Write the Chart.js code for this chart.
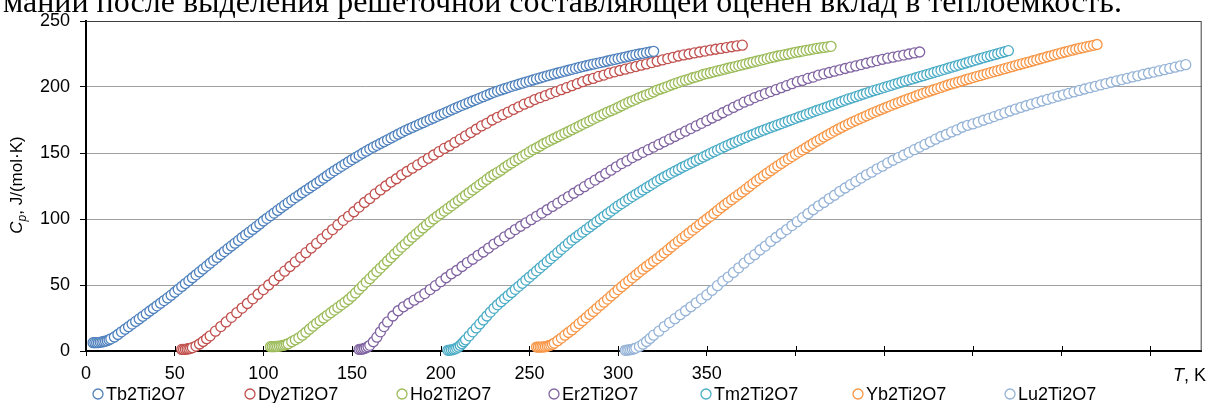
<!DOCTYPE html>
<html>
<head>
<meta charset="utf-8">
<script src="https://cdn.jsdelivr.net/npm/chart.js@4/dist/chart.umd.min.js"></script>
<style>
  body { margin: 0; background: #fff; }
  #wrap { position: relative; width: 1208px; height: 403px; overflow: hidden; }
  #caption { position: absolute; left: 3px; top: -15px; font: 32px/32px "Liberation Serif", "Times New Roman", serif; color: #000; white-space: nowrap; }
  canvas { position: absolute; left: 0; top: 0; }
</style>
</head>
<body>
<div id="wrap">
  <canvas id="cpChart" width="1208" height="403"></canvas>
  <div id="caption">мании после выделения решеточной составляющей оценен вклад в теплоемкость.</div>
</div>
<script>
// real temperatures of the measured points, K (two measurement grids)
const tempDense = [4,5,6,7,8,9,10,11,12,13,14,16,18,20,22,24,26,28,30,32,34,36,38,40,42,44,46,48,50,52,54,56,58,60,62,64,66,68,70,72,74,76,78,80,82,84,86,88,90,92,94,96,98,100,102,104,106,108,110,112,114,116,118,120,122,124,126,128,130,132,134,136,138,140,142,144,146,148,150,152,154,156,158,160,162,164,166,168,170,172,174,176,178,180,182,184,186,188,190,192,194,196,198,200,202,204,206,208,210,212,214,216,218,220,222,224,226,228,230,232,234,236,238,240,242,244,246,248,250,252,254,256,258,260,262,264,266,268,270,272,274,276,278,280,282,284,286,288,290,292,294,296,298,300,302,304,306,308,310,312,314,316,318,320];
const tempSparse = [4,5,6,7,8,9,10,12,14,16,18,20,23,26,29,32,35,38,41,44,47,50,53,56,59,62,65,68,71,74,77,80,83,86,89,92,95,98,101,104,107,110,113,116,119,122,125,128,131,134,137,140,143,146,149,152,155,158,161,164,167,170,173,176,179,182,185,188,191,194,197,200,203,206,209,212,215,218,221,224,227,230,233,236,239,242,245,248,251,254,257,260,263,266,269,272,275,278,281,284,287,290,293,296,299,302,305,308,311,314,317,320];

// every curve is shifted along T by 50 K from the previous one
const offsetK = [0, 50, 100, 150, 200, 250, 300];

const names = ["Tb2Ti2O7", "Dy2Ti2O7", "Ho2Ti2O7", "Er2Ti2O7", "Tm2Ti2O7", "Yb2Ti2O7", "Lu2Ti2O7"];
const colors = ["#4F81BD", "#C0504D", "#9BBB59", "#8064A2", "#4BACC6", "#F79646", "#95B3D7"];

// Cp, J/(mol K)
const tbCp = [6.3,6.3,6.3,6.4,6.6,6.9,7.2,7.5,7.9,8.5,9.2,10.6,12.5,14.5,16.5,18.4,20.4,22.4,24.3,26.3,28.3,30.3,32.2,34.2,36.2,38.2,40.2,42.3,44.5,46.7,48.9,51.1,53.3,55.5,57.7,59.9,62.1,64.3,66.5,68.7,70.9,73.1,75.3,77.5,79.6,81.7,83.8,85.9,88,90,92.1,94.2,96.3,98.5,100.5,102.5,104.5,106.5,108.5,110.5,112.4,114.3,116.2,118,119.9,121.7,123.5,125.3,127.1,129,130.9,132.8,134.7,136.5,138.2,139.9,141.6,143.3,145,146.6,148.2,149.8,151.4,153,154.4,155.8,157.2,158.6,160,161.4,162.8,164.2,165.6,167,168.2,169.4,170.6,171.8,173,174.2,175.4,176.6,177.8,179,180.2,181.4,182.6,183.8,185,186.1,187.2,188.3,189.4,190.5,191.6,192.7,193.8,194.9,196,196.9,197.8,198.7,199.6,200.5,201.3,202.1,202.9,203.7,204.5,205.3,206.1,206.9,207.7,208.5,209.2,209.9,210.6,211.3,212,212.7,213.4,214.1,214.8,215.5,216.1,216.7,217.3,217.9,218.5,219.1,219.7,220.3,220.9,221.5,222.1,222.7,223.3,223.9,224.5,225,225.5,226,226.5,227];
const dyCp = [1.2,1.2,1.3,1.5,1.7,2,2.5,3.7,5.3,7.2,9.3,11.5,15,18.5,22,25.5,29,32.5,36,39.5,43,46.5,50,53.5,57,60.5,64,67.5,71,74.5,78,81.5,85,88.5,92,95.5,99,102,105.5,109,112.5,115.5,119,122,125,128,130.5,133.5,136,138.5,141,143.5,146,148.5,151,153.5,155.5,158,160.5,163,165.5,168,170.5,172.5,175,177,179,181,183,185,187,188.5,190.5,192,193.5,195,196.5,198,199.5,201,202.5,204,205.5,206.5,208,209,210.5,211.5,212.5,213.5,214.5,215.5,216.5,217.5,218.5,219.5,220.5,221.5,222.5,223.5,224.3,225,225.8,226.5,227.2,228,228.6,229.2,229.9,230.5,231.1,231.7];
const hoCp = [3.3,3.3,3.3,3.4,3.5,3.7,3.9,4.2,4.5,5,5.5,7,8.5,10,12,14.2,16.5,18.8,21,23,25,27,29,31,33,35,37,39,41.5,44,46.8,49.5,52.2,54.8,57.5,60.2,62.8,65.5,68.2,70.8,73.5,76.2,78.7,81,83.7,86.2,88.5,90.8,93.2,95.5,97.8,100,102,104,106,108,110,112,114,116,118,120,122,124,126,128,130,132,133.7,135.3,137,139,140.8,142.5,144.2,145.8,147.5,149.2,150.8,152.5,153.8,155.3,157,158.3,159.7,161,162.3,163.7,165,166.3,167.7,169,170.3,171.7,173,174.3,175.7,177,178.3,179.7,181,182,183.2,184.5,185.8,187.2,188.5,189.5,190.7,192,193,194,195,196.3,197.7,198.5,199.5,200.5,201.5,202.5,203.5,204.5,205.2,206,207,207.7,208.5,209.5,210.2,210.8,211.5,212.2,212.8,213.5,214.2,214.8,215.5,216.2,216.8,217.5,218.2,218.8,219.5,220.2,220.8,221.5,222.2,222.8,223.5,224,224.5,225,225.7,226.3,226.7,227.2,227.8,228.2,228.7,229.2,229.6,230,230.4,230.8];
const erCp = [1.2,1.3,1.5,1.9,2.5,3.3,4.3,7,10.5,14.5,18.5,22,26.5,30.5,33.5,36,38.5,41,43.5,46.5,49.5,52.5,55.5,58.5,61,64,67,69.5,72.5,75,78,81,83.5,86.5,89,92,94.5,97,99.5,102,104.5,107,109.5,112,114.5,117,119.5,122,124.5,127,129.5,132,134.5,137,139.5,142,144,146.5,148.5,150.5,152.5,154.5,156.5,158.5,160.5,162.5,164.5,166.5,168.5,170.5,172.5,174.5,176.5,178.5,180.5,182.5,184.5,186.5,188.5,190,192,193.5,195,196.5,198,199.5,201,202.5,204,205,206.5,207.5,209,210,211,212,213,214,215,216,217,218,219,220,221,221.8,222.6,223.4,224.2,225,225.8,226.5];
const tmCp = [0.5,0.6,0.8,1.1,1.6,2.2,3,4.2,5.5,7,8.5,11.5,14.5,17.5,20.5,23.5,26.5,29.5,32.3,35,37.3,39.7,42,44.3,46.7,49,51.3,53.7,56,58.3,60.7,63,65.3,67.7,70,72.3,74.7,77,79.3,81.7,84,86,88,90,92,94,96,98,100,102,104,106,108,110,111.7,113.5,115.3,117,118.7,120.3,122,123.7,125.3,127,128.7,130.3,131.8,133.3,134.8,136.2,137.5,139,140.3,141.7,143,144.3,145.7,147,148.3,149.7,151,152.2,153.5,154.8,156,157.2,158.3,159.5,160.7,161.8,163,164,165.2,166.3,167.3,168.3,169.3,170.3,171.3,172.3,173.3,174.3,175.3,176.3,177.3,178.2,179.2,180.2,181.2,182.2,183.1,184,185,186,187,188,189,190,191,191.8,192.7,193.6,194.5,195.4,196.3,197.2,198,198.8,199.7,200.5,201.3,202.2,203,203.8,204.6,205.4,206.2,207,207.8,208.6,209.4,210.2,211,211.8,212.6,213.4,214.2,215,215.8,216.6,217.4,218.2,219,219.8,220.6,221.4,222.2,223,223.7,224.5,225.2,226,226.7,227.5];
const ybCp = [3,3,3,3,3.1,3.3,3.6,4,4.5,5.2,6,7.8,9.8,12,14,16,18.3,20.7,23,25.3,27.7,30,32.3,34.7,37,39.3,41.7,44,46.5,48.7,51,53.2,55.4,57.6,59.8,62,64,66,68,70,72.2,74.4,76.6,78.8,81,83.2,85.3,87.4,89.5,91.6,93.7,95.8,97.9,100,102,104.2,106.4,108.6,110.6,112.6,114.6,116.6,118.6,120.5,122.6,124.7,126.8,128.8,130.8,132.8,134.7,136.6,138.5,140.3,142.1,143.9,145.6,147.3,149,150.7,152.3,154,155.7,157.3,158.9,160.5,162.1,163.6,165.1,166.6,168,169.4,170.8,172.1,173.4,174.6,175.8,177,178.2,179.4,180.6,181.7,182.8,183.9,185,186.1,187.2,188.2,189.2,190.2,191.2,192.2,193.2,194.2,195.2,196.1,197,197.9,198.8,199.7,200.6,201.5,202.3,203.1,203.9,204.7,205.5,206.3,207.1,207.9,208.6,209.4,210.2,210.9,211.7,212.4,213.2,213.9,214.7,215.4,216.2,216.9,217.7,218.4,219.1,219.9,220.6,221.4,222.1,222.9,223.6,224.4,225.1,225.8,226.5,227.2,227.9,228.6,229.2,229.8,230.4,231,231.6,232.2];
const luCp = [0.5,0.6,0.8,1,1.3,1.7,2.2,3.5,5.2,7.2,9.5,12,15,18.5,21.5,24.5,27.5,30.5,33.5,36.5,39.5,42.5,46,49.5,53,56,59.5,63,66.5,70,73,76.5,79.5,83,86,89,92,95,98,101,104,107,110,112.5,115.5,118,121,123.5,126,128.5,131,133.5,135.5,138,140,142.5,144.5,146.5,148.5,150.5,152.5,154.5,156.5,158.5,160.5,162.5,164,166,167.5,169.5,171,172,173.4,174.8,176.2,177.6,179,180.4,181.8,183.2,184.5,185.8,187,188.2,189.4,190.6,191.8,193,194.1,195.2,196.3,197.4,198.5,199.5,200.5,201.6,202.6,203.6,204.6,205.6,206.6,207.6,208.5,209.5,210.4,211.3,212.2,213.1,214.1,215,216,216.9];

const cpSeries = [tbCp, dyCp, hoCp, erCp, tmCp, ybCp, luCp];
const tempSeries = [tempDense, tempSparse, tempDense, tempSparse, tempDense, tempDense, tempSparse];

const xTicks = [0, 50, 100, 150, 200, 250, 300, 350];   // labelled ticks
const yTicks = [0, 50, 100, 150, 200, 250];

Chart.defaults.font.family = '"Liberation Sans", Arial, sans-serif';
Chart.defaults.font.size = 18;
Chart.defaults.color = '#000';

// frame, inner tick halves, legend and axis titles (Excel style)
const excelDecor = {
  id: 'excelDecor',
  beforeDatasetsDraw(chart) {
    const { ctx, chartArea: a, scales: { x } } = chart;
    ctx.save();
    ctx.strokeStyle = '#404040';
    ctx.lineWidth = 1;
    ctx.beginPath();
    ctx.moveTo(a.left, a.top + 0.5);
    ctx.lineTo(a.right - 0.5, a.top + 0.5);
    ctx.lineTo(a.right - 0.5, a.bottom);
    ctx.stroke();
    ctx.strokeStyle = '#000';
    ctx.beginPath();
    x.ticks.forEach(t => {
      const px = Math.round(x.getPixelForValue(t.value)) + 0.5;
      ctx.moveTo(px, a.bottom - 5);
      ctx.lineTo(px, a.bottom);
    });
    ctx.stroke();
    ctx.restore();
  },
  afterDraw(chart) {
    const { ctx } = chart;
    ctx.save();
    // legend
    ctx.font = '18px "Liberation Sans", Arial, sans-serif';
    ctx.textBaseline = 'alphabetic';
    names.forEach((n, i) => {
      const cx = 98 + i * 152;
      ctx.beginPath();
      ctx.arc(cx, 394, 5, 0, Math.PI * 2);
      ctx.fillStyle = '#fff';
      ctx.fill();
      ctx.strokeStyle = colors[i];
      ctx.lineWidth = 1.3;
      ctx.stroke();
      ctx.fillStyle = '#000';
      ctx.fillText(n, cx + 8, 400);
    });
    // x title
    ctx.textAlign = 'right';
    ctx.fillText(', K', 1206, 381);
    const kw = ctx.measureText(', K').width;
    ctx.font = 'italic 18px "Liberation Sans", Arial, sans-serif';
    ctx.fillText('T', 1206 - kw, 381);
    // y title
    ctx.translate(22, 185);
    ctx.rotate(-Math.PI / 2);
    ctx.textAlign = 'left';
    const fC = 'italic 17px "Liberation Sans", Arial, sans-serif';
    const fP = 'italic 12px "Liberation Sans", Arial, sans-serif';
    const fR = '17px "Liberation Sans", Arial, sans-serif';
    const rest = ', J/(mol\u00B7K)';
    ctx.font = fC; const w1 = ctx.measureText('C').width;
    ctx.font = fP; const w2 = ctx.measureText('p').width;
    ctx.font = fR; const w3 = ctx.measureText(rest).width;
    let sx = -(w1 + w2 + w3) / 2;
    ctx.font = fC; ctx.fillText('C', sx, 0); sx += w1;
    ctx.font = fP; ctx.fillText('p', sx, 4); sx += w2;
    ctx.font = fR; ctx.fillText(rest, sx, 0);
    ctx.restore();
  }
};

new Chart(document.getElementById('cpChart'), {
  type: 'scatter',
  data: {
    datasets: names.map((name, i) => ({
      label: name,
      data: tempSeries[i].map((t, j) => ({ x: t + offsetK[i], y: cpSeries[i][j] })),
      pointStyle: 'circle',
      pointRadius: 5,
      pointHoverRadius: 5,
      pointBorderWidth: 1.3,
      pointBackgroundColor: '#fff',
      pointBorderColor: colors[i],
      showLine: false,
      clip: false
    }))
  },
  plugins: [excelDecor],
  options: {
    responsive: false,
    animation: false,
    layout: { padding: { top: 21, right: 5, left: 0, bottom: 0 } },
    plugins: { legend: { display: false }, tooltip: { enabled: false } },
    scales: {
      x: {
        type: 'linear',
        min: 0,
        max: 629,
        afterBuildTicks: s => { s.ticks = s.ticks.filter(t => t.value % 50 === 0 && t.value <= 600); },
        afterFit: s => { s.height = 52; },
        ticks: {
          stepSize: 50,
          autoSkip: false,
          maxRotation: 0,
          padding: 7,
          callback: v => xTicks.includes(v) ? String(v) : ''
        },
        grid: { drawOnChartArea: false, drawTicks: true, tickLength: 5, tickColor: '#000' },
        border: { display: true, color: '#000', width: 2 }
      },
      y: {
        min: 0,
        max: 250,
        afterBuildTicks: s => { s.ticks = yTicks.map(v => ({ value: v })); },
        afterFit: s => { s.width = 86; },
        ticks: { padding: 10 },
        grid: { color: '#A0A0A0', lineWidth: 1, drawTicks: true, tickLength: 6, tickColor: '#000' },
        border: { display: true, color: '#000', width: 2 }
      }
    }
  }
});
</script>
</body>
</html>
